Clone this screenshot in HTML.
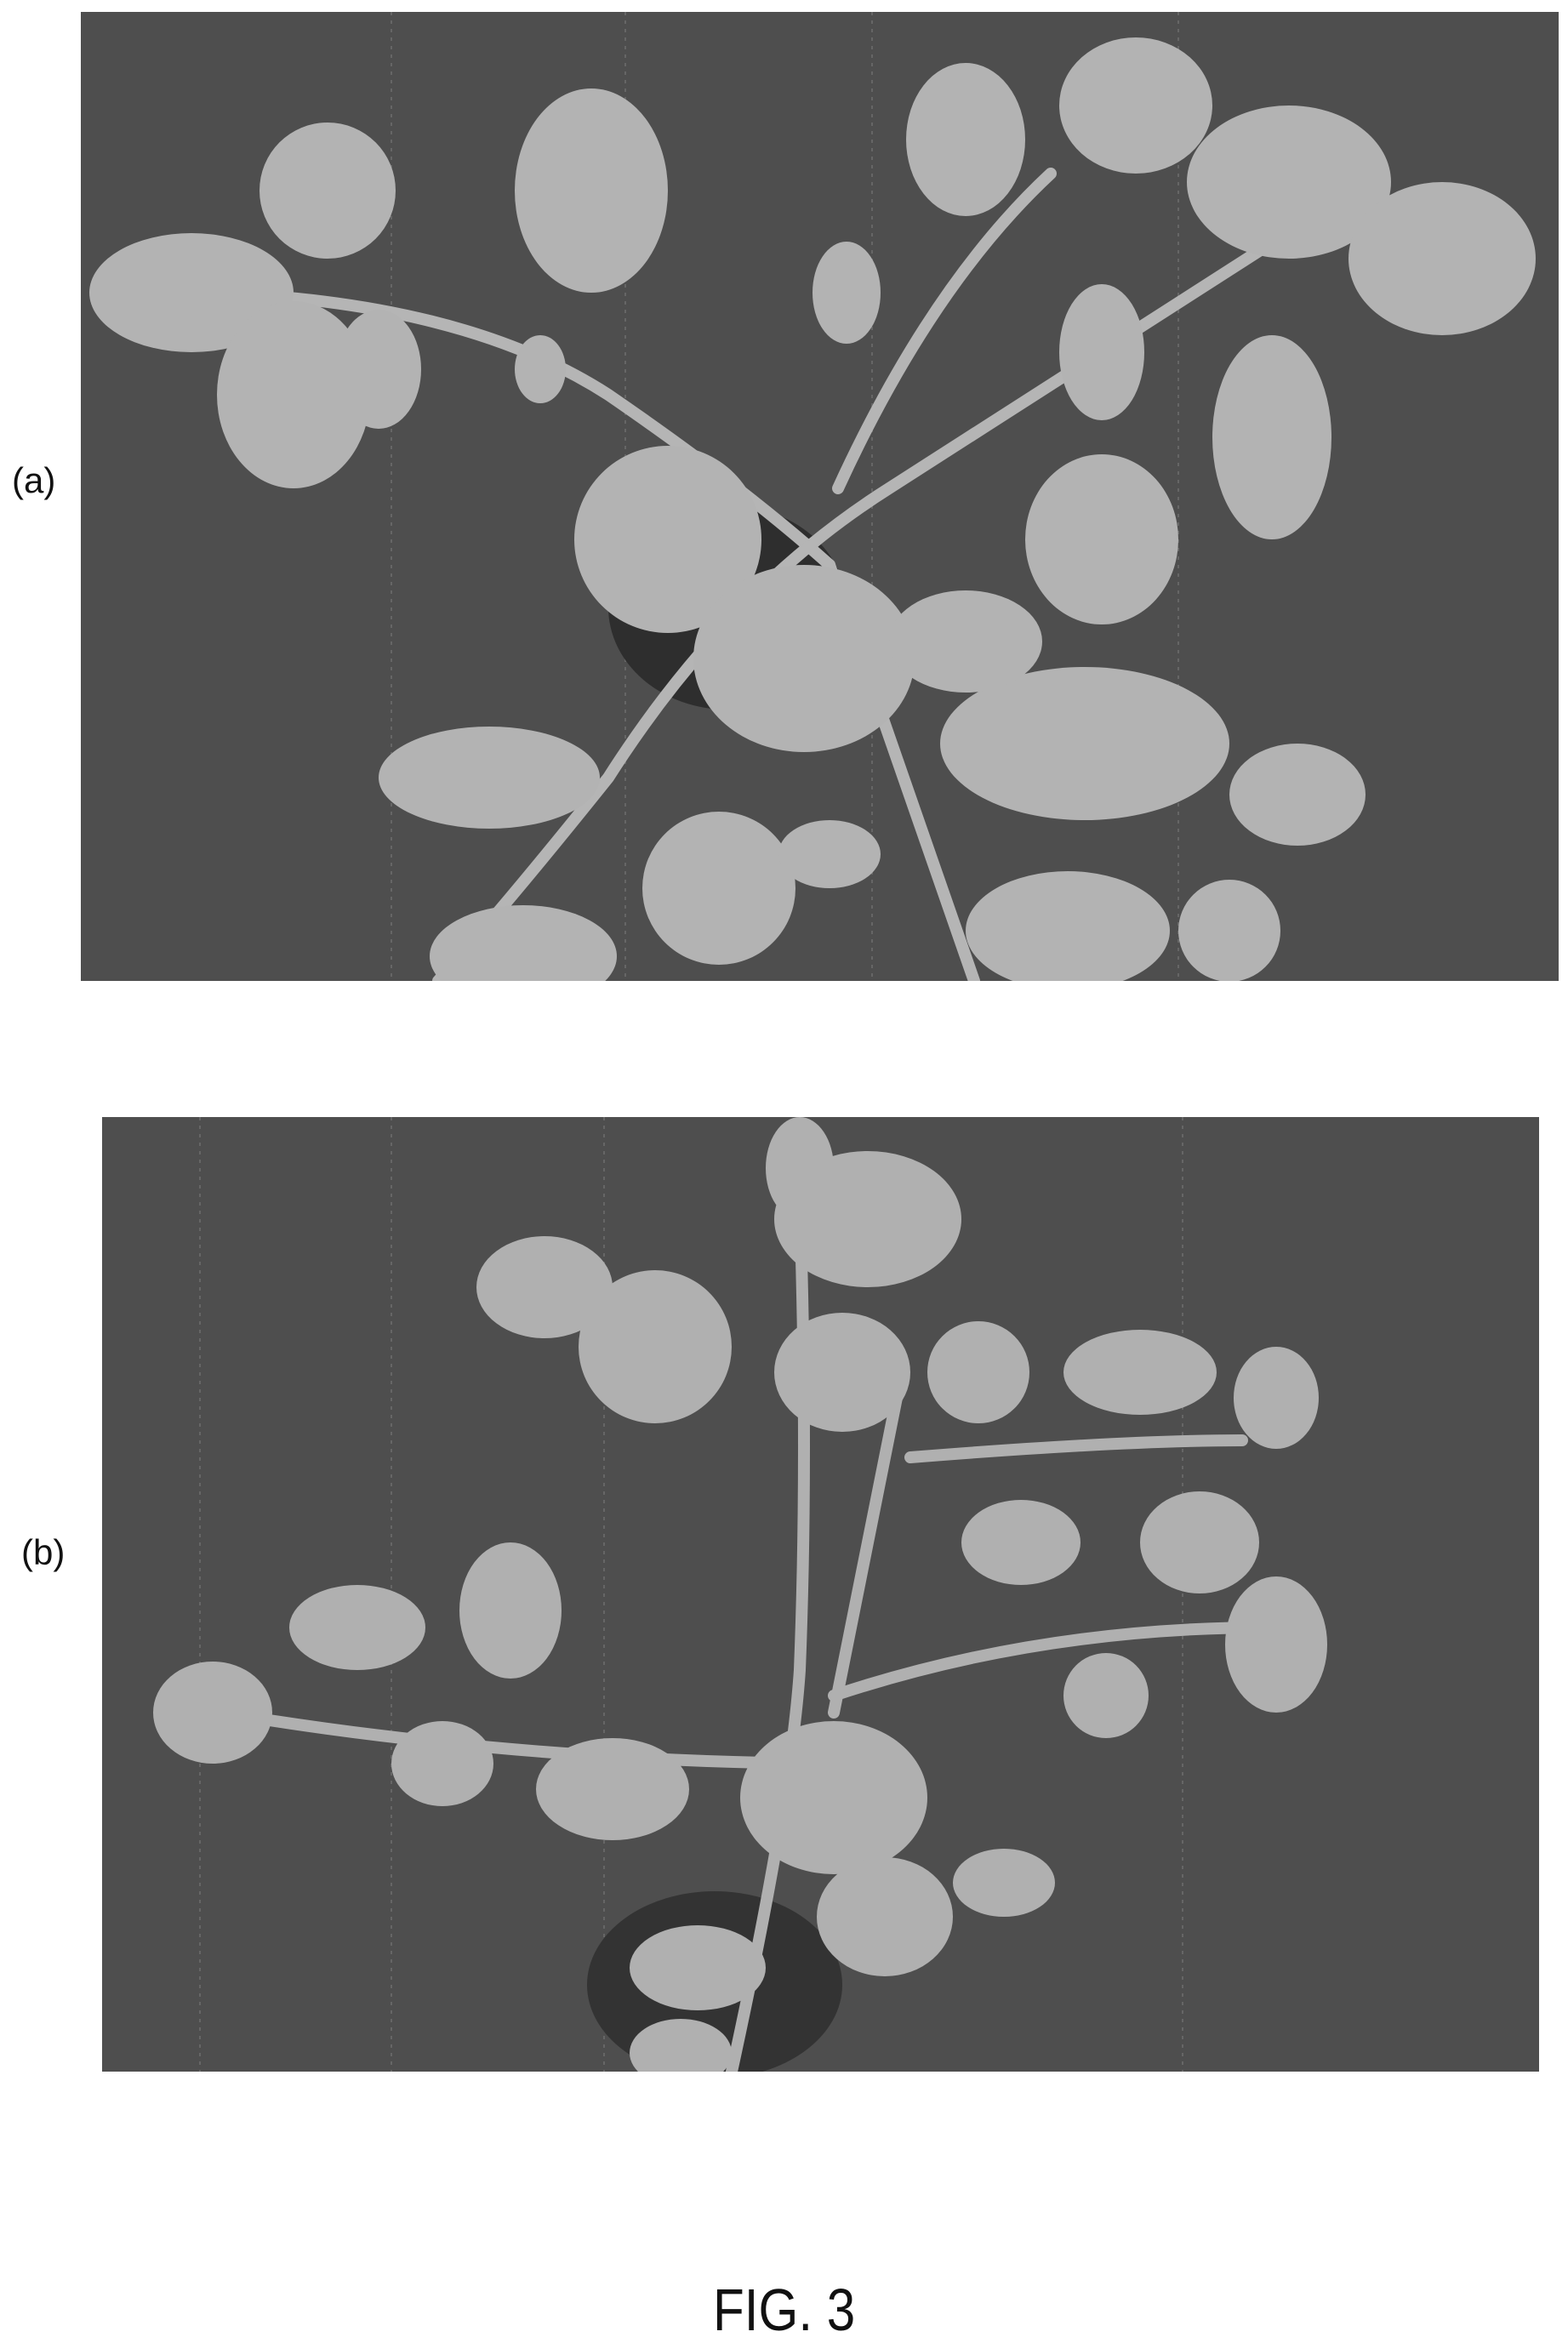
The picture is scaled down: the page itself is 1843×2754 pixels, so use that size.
<!DOCTYPE html>
<html><head><meta charset="utf-8"><style>
body{margin:0;background:#fff;width:1843px;height:2752px;position:relative;overflow:hidden;font-family:"Liberation Sans",sans-serif}
.lbl{position:absolute;font-size:42px;color:#111;line-height:1}
svg{position:absolute}
</style></head><body>
<div class="lbl" style="left:14px;top:544px">(a)</div>
<div class="lbl" style="left:25px;top:1804px">(b)</div>
<svg style="left:95px;top:14px" width="1737" height="1139" viewBox="0 0 1737 1139">
<rect width="1737" height="1139" fill="#4e4e4e"/>
<g stroke="#666" stroke-width="2" stroke-dasharray="4 6"><line x1="365" y1="0" x2="365" y2="1139"/><line x1="640" y1="0" x2="640" y2="1139"/><line x1="930" y1="0" x2="930" y2="1139"/><line x1="1290" y1="0" x2="1290" y2="1139"/></g>
<ellipse cx="760" cy="700" rx="140" ry="120" fill="#2e2e2e"/>
<g stroke="#b5b5b5" stroke-width="14" fill="none" stroke-linecap="round">
<path d="M150 330 Q450 340 620 450 Q780 560 880 650"/>
<path d="M1480 220 Q1200 400 950 560 Q760 680 620 900 Q500 1050 420 1139"/>
<path d="M1140 190 Q1000 320 890 560"/>
<path d="M880 650 Q950 850 1050 1139"/>
</g>
<g fill="#b3b3b3">
<ellipse cx="130" cy="330" rx="120" ry="70"/><ellipse cx="290" cy="210" rx="80" ry="80"/><ellipse cx="250" cy="450" rx="90" ry="110"/><ellipse cx="350" cy="420" rx="50" ry="70"/>
<ellipse cx="600" cy="210" rx="90" ry="120"/><ellipse cx="540" cy="420" rx="30" ry="40"/>
<ellipse cx="1040" cy="150" rx="70" ry="90"/><ellipse cx="1240" cy="110" rx="90" ry="80"/><ellipse cx="1420" cy="200" rx="120" ry="90"/><ellipse cx="1600" cy="290" rx="110" ry="90"/>
<ellipse cx="1400" cy="500" rx="70" ry="120"/><ellipse cx="1200" cy="400" rx="50" ry="80"/><ellipse cx="900" cy="330" rx="40" ry="60"/>
<ellipse cx="690" cy="620" rx="110" ry="110"/><ellipse cx="850" cy="760" rx="130" ry="110"/><ellipse cx="1200" cy="620" rx="90" ry="100"/>
<ellipse cx="1180" cy="860" rx="170" ry="90"/><ellipse cx="1040" cy="740" rx="90" ry="60"/><ellipse cx="1430" cy="920" rx="80" ry="60"/>
<ellipse cx="480" cy="900" rx="130" ry="60"/><ellipse cx="750" cy="1030" rx="90" ry="90"/><ellipse cx="880" cy="990" rx="60" ry="40"/>
<ellipse cx="520" cy="1110" rx="110" ry="60"/><ellipse cx="1160" cy="1080" rx="120" ry="70"/><ellipse cx="1350" cy="1080" rx="60" ry="60"/>
</g>
</svg>
<svg style="left:120px;top:1313px" width="1689" height="1122" viewBox="0 0 1689 1122">
<rect width="1689" height="1122" fill="#4e4e4e"/>
<g stroke="#666" stroke-width="2" stroke-dasharray="4 6"><line x1="115" y1="0" x2="115" y2="1122"/><line x1="340" y1="0" x2="340" y2="1122"/><line x1="590" y1="0" x2="590" y2="1122"/><line x1="1270" y1="0" x2="1270" y2="1122"/></g>
<ellipse cx="720" cy="1020" rx="150" ry="110" fill="#333"/>
<g stroke="#b0b0b0" stroke-width="14" fill="none" stroke-linecap="round">
<path d="M820 100 Q830 400 820 650 Q810 800 740 1122"/>
<path d="M140 700 Q500 760 880 760"/>
<path d="M950 400 Q1200 380 1340 380"/>
<path d="M860 680 Q1100 600 1370 600"/>
<path d="M940 300 Q900 500 860 700"/>
</g>
<g fill="#b0b0b0">
<ellipse cx="820" cy="60" rx="40" ry="60"/><ellipse cx="900" cy="120" rx="110" ry="80"/><ellipse cx="650" cy="270" rx="90" ry="90"/><ellipse cx="520" cy="200" rx="80" ry="60"/>
<ellipse cx="870" cy="300" rx="80" ry="70"/><ellipse cx="1030" cy="300" rx="60" ry="60"/><ellipse cx="1220" cy="300" rx="90" ry="50"/><ellipse cx="1380" cy="330" rx="50" ry="60"/>
<ellipse cx="1290" cy="500" rx="70" ry="60"/><ellipse cx="1380" cy="620" rx="60" ry="80"/><ellipse cx="1080" cy="500" rx="70" ry="50"/>
<ellipse cx="130" cy="700" rx="70" ry="60"/><ellipse cx="300" cy="600" rx="80" ry="50"/><ellipse cx="480" cy="580" rx="60" ry="80"/><ellipse cx="400" cy="760" rx="60" ry="50"/>
<ellipse cx="600" cy="790" rx="90" ry="60"/><ellipse cx="860" cy="800" rx="110" ry="90"/><ellipse cx="920" cy="940" rx="80" ry="70"/><ellipse cx="700" cy="1000" rx="80" ry="50"/>
<ellipse cx="680" cy="1100" rx="60" ry="40"/><ellipse cx="1060" cy="900" rx="60" ry="40"/><ellipse cx="1180" cy="680" rx="50" ry="50"/>
</g>
</svg>
<div style="position:absolute;left:838px;top:2680px;font-size:70px;line-height:1;color:#111;transform:scaleX(0.86);transform-origin:left top;white-space:nowrap">FIG. 3</div>
</body></html>
